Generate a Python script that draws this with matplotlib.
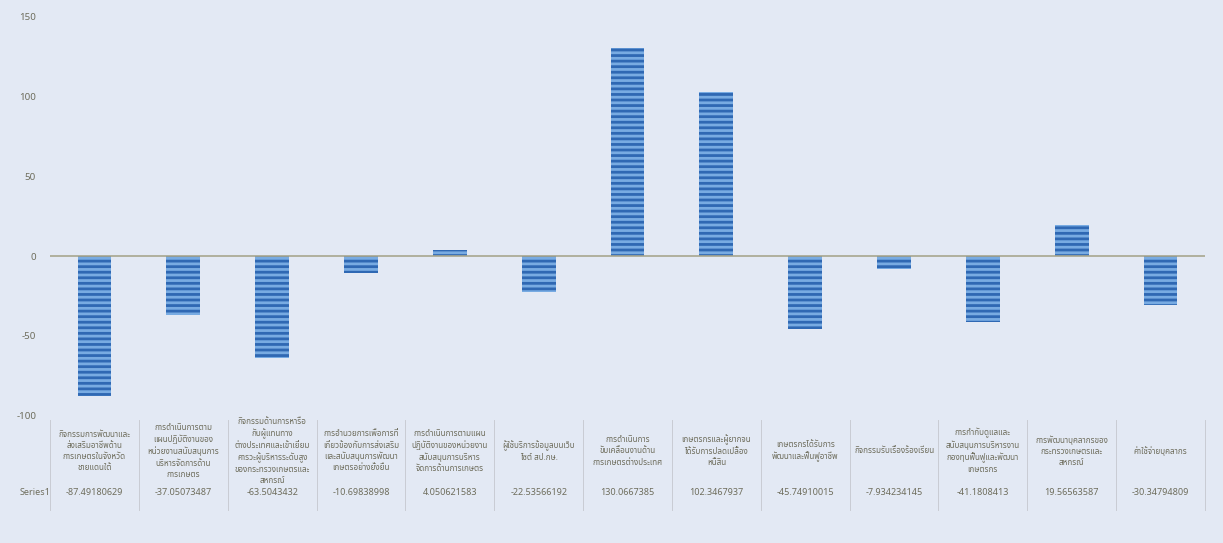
import matplotlib
matplotlib.use("Agg")
import matplotlib.pyplot as plt
import numpy as np

categories = [
    "กิจกรรมการพัฒนาและ\nส่งเสริมอาชีพด้าน\nการเกษตรในจังหวัด\nชายแดนใต้",
    "การดำเนินการตาม\nแผนปฏิบัติงานของ\nหน่วยงานสนับสนุนการ\nบริหารจัดการด้าน\nการเกษตร",
    "กิจกรรมด้านการหารือ\nกับผู้แทนทาง\nต่างประเทศและเข้าเยี่ยม\nคารวะผู้บริหารระดับสูง\nของกระทรวงเกษตรและ\nสหกรณ์",
    "การอำนวยการเพื่อการที่\nเกี่ยวข้องกับการส่งเสริม\nและสนับสนุนการพัฒนา\nเกษตรอย่างยั่งยืน",
    "การดำเนินการตามแผน\nปฏิบัติงานของหน่วยงาน\nสนับสนุนการบริหาร\nจัดการด้านการเกษตร",
    "ผู้ใช้บริการข้อมูลบนเว็บ\nไซต์ สป.กษ.",
    "การดำเนินการ\nขับเคลื่อนงานด้าน\nการเกษตรต่างประเทศ",
    "เกษตรกรและผู้ยากจน\nได้รับการปลดเปลื้อง\nหนี้สิน",
    "เกษตรกรได้รับการ\nพัฒนาและฟื้นฟูอาชีพ",
    "กิจกรรมรับเรื่องร้องเรียน",
    "การกำกับดูแลและ\nสนับสนุนการบริหารงาน\nกองทุนฟื้นฟูและพัฒนา\nเกษตรกร",
    "การพัฒนาบุคลากรของ\nกระทรวงเกษตรและ\nสหกรณ์",
    "ค่าใช้จ่ายบุคลากร",
]
series_name = "Series1"
values = [-87.49180629, -37.05073487, -63.5043432, -10.69838998, 4.050621583,
          -22.53566192, 130.0667385, 102.3467937, -45.74910015, -7.934234145,
          -41.1808413, 19.56563587, -30.34794809]
value_text = ["-87.49180629", "-37.05073487", "-63.5043432", "-10.69838998", "4.050621583",
              "-22.53566192", "130.0667385", "102.3467937", "-45.74910015", "-7.934234145",
              "-41.1808413", "19.56563587", "-30.34794809"]

plt.rcParams['font.family'] = ['Noto Sans', 'Noto Sans Thai', 'DejaVu Sans']
plt.rcParams['hatch.linewidth'] = 2.0

bg = '#e3e9f4'
txt = '#6e6d5c'

fig = plt.figure(figsize=(12.23, 5.43), dpi=100, facecolor=bg)
ax = fig.add_axes([0.0409, 0.2339, 0.9444, 0.7366], facecolor=bg)

x = np.arange(len(values))
ax.bar(x, values, width=0.38, color='#2f68b3', edgecolor='#78abe2',
       hatch='---', linewidth=0)
ax.axhline(0, color='#a8a68e', lw=1.2)

ax.set_xlim(-0.5, len(values) - 0.5)
ax.set_ylim(-100, 150)
ax.set_yticks([-100, -50, 0, 50, 100, 150])
ax.set_yticklabels(["-100", "-50", "0", "50", "100", "150"])
ax.tick_params(axis='y', length=0, pad=10, labelsize=7, labelcolor=txt)
ax.set_xticks([])
for s in ax.spines.values():
    s.set_visible(False)

# data table under the plot
tr = ax.get_xaxis_transform()
for i in range(len(values) + 1):
    ax.plot([i - 0.5, i - 0.5], [-0.01, -0.235], transform=tr, color='#c9ccd3',
            lw=0.7, clip_on=False)
for i, (lab, vt) in enumerate(zip(categories, value_text)):
    ax.text(i, -0.0875, lab, transform=tr, ha='center', va='center', fontsize=5.8,
            color=txt, linespacing=1.3)
    ax.text(i, -0.192, vt, transform=tr, ha='center', va='center', fontsize=6.5,
            color=txt)
ax.text(-0.5 - 0.17, -0.192, series_name, transform=tr, ha='center', va='center',
        fontsize=6.5, color=txt)

fig.savefig('out.png', dpi=100, facecolor=bg)
